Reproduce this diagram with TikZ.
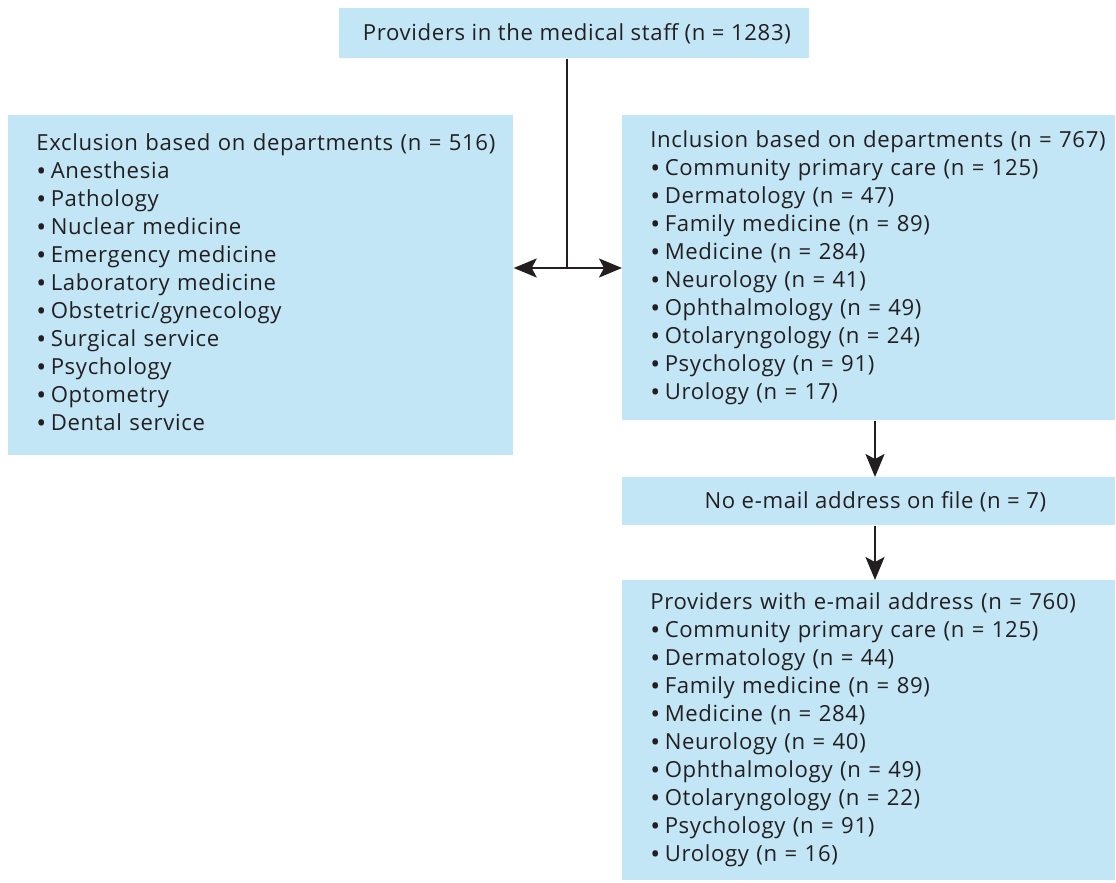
\documentclass[tikz,border=0pt]{standalone}
\usepackage{fontspec}
\setmainfont{Open Sans}[LetterSpace=3]
\usepackage{tikz}
\usetikzlibrary{arrows.meta}
\definecolor{boxblue}{RGB}{194,230,246}
\definecolor{ink}{RGB}{35,31,32}
\newcommand\bul{\raisebox{-0.09em}{\fontsize{15}{15}\selectfont\textbullet}\hspace{0.09cm}}

\begin{document}
\begin{tikzpicture}[
    box/.style={fill=boxblue, text=ink, inner ysep=0pt, inner xsep=0.56cm, align=left,
      font=\fontsize{12.6}{15.93}\selectfont},
    arr/.style={line width=1.2pt, draw=ink, -{Stealth[length=0.46cm, width=0.38cm, inset=0.1cm]}}
  ]
  \useasboundingbox (0, 0) rectangle (22.32, -17.64);

  \node[box, anchor=north west, minimum width=9.4cm, minimum height=1cm, align=center, inner xsep=0pt]
    (staff) at (6.78, -0.16) {\hspace{0.1cm}Providers in the medical staff (n = 1283)};

  \node[box, anchor=north west, text width=8.98cm, minimum height=6.8cm] (excl) at (0.16, -2.3)
    {\begin{tabular}{@{}l@{}}
     Exclusion based on departments (n = 516)\\
     \bul Anesthesia\\
     \bul Pathology\\
     \bul Nuclear medicine\\
     \bul Emergency medicine\\
     \bul Laboratory medicine\\
     \bul Obstetric/gynecology\\
     \bul Surgical service\\
     \bul Psychology\\
     \bul Optometry\\
     \bul Dental service
     \end{tabular}};

  \node[box, anchor=north west, text width=8.74cm, minimum height=6.1cm] (incl) at (12.44, -2.3)
    {\begin{tabular}{@{}l@{}}
     Inclusion based on departments (n = 767)\\
     \bul Community primary care (n = 125)\\
     \bul Dermatology (n = 47)\\
     \bul Family medicine (n = 89)\\
     \bul Medicine (n = 284)\\
     \bul Neurology (n = 41)\\
     \bul Ophthalmology (n = 49)\\
     \bul Otolaryngology (n = 24)\\
     \bul Psychology (n = 91)\\
     \bul Urology (n = 17)
     \end{tabular}};

  \node[box, anchor=north west, minimum width=9.86cm, minimum height=0.96cm, align=center, inner xsep=0pt]
    (nomail) at (12.44, -9.54) {\hspace{0.26cm}No e-mail address on file (n = 7)};

  \node[box, anchor=north west, text width=8.74cm, minimum height=6cm] (mail) at (12.44, -11.6)
    {\begin{tabular}{@{}l@{}}
     Providers with e-mail address (n = 760)\\
     \bul Community primary care (n = 125)\\
     \bul Dermatology (n = 44)\\
     \bul Family medicine (n = 89)\\
     \bul Medicine (n = 284)\\
     \bul Neurology (n = 40)\\
     \bul Ophthalmology (n = 49)\\
     \bul Otolaryngology (n = 22)\\
     \bul Psychology (n = 91)\\
     \bul Urology (n = 16)
     \end{tabular}};

  % split point and the right-hand column
  \coordinate (split) at (11.34, -5.36);
  \coordinate (col) at (17.5, 0);

  \draw[line width=1.2pt, draw=ink] (staff.south -| split) -- (split);
  \draw[arr, {Stealth[length=0.46cm, width=0.38cm, inset=0.1cm]}-{Stealth[length=0.46cm, width=0.38cm, inset=0.1cm]}]
    (excl.east |- split) -- (incl.west |- split);
  \draw[arr] (incl.south -| col) -- (nomail.north -| col);
  \draw[arr] (nomail.south -| col) -- (mail.north -| col);
\end{tikzpicture}
\end{document}
